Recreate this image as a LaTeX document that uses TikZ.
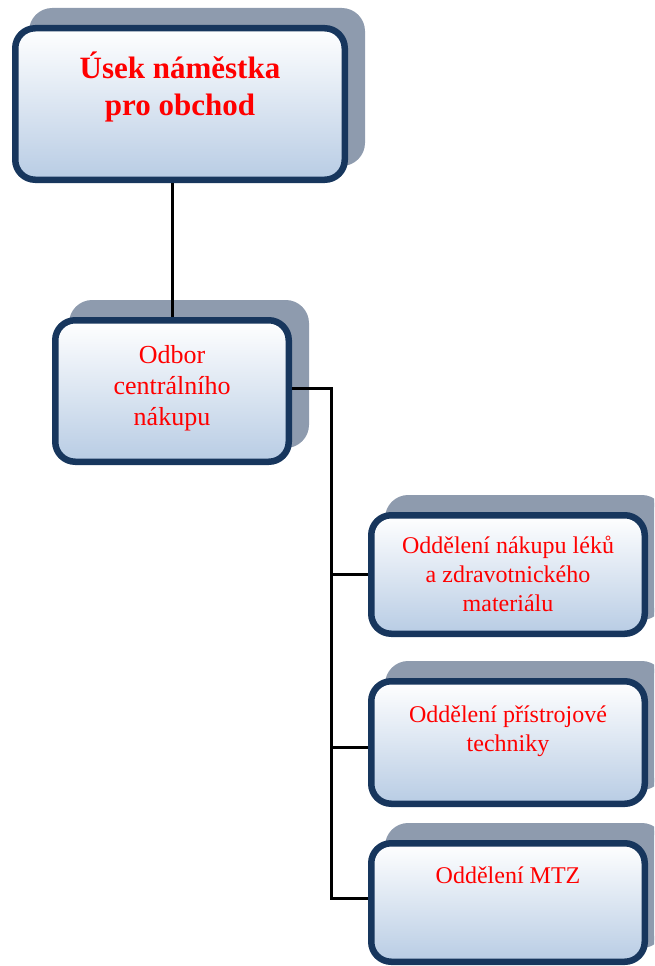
\documentclass[tikz,border=0pt]{standalone}
\usepackage{fontspec}
\setmainfont{Liberation Serif}
\usetikzlibrary{shadows}
\definecolor{boxborder}{RGB}{23,54,93}
\definecolor{boxtop}{RGB}{255,255,255}
\definecolor{boxbottom}{RGB}{184,204,228}
\definecolor{boxshadow}{RGB}{142,155,174}
\definecolor{txtred}{RGB}{255,0,0}
\begin{document}
\begin{tikzpicture}[x=1pt,y=-1pt,
  orgbox/.style={rectangle, rounded corners=20pt, draw=boxborder, line width=6.5pt,
    top color=boxtop, bottom color=boxbottom, inner sep=0pt,
    general shadow={fill=boxshadow, draw=boxshadow, line width=6.5pt,
      shadow xshift=17pt, shadow yshift=17pt}},
  boxtxt/.style={text=txtred, align=center, inner sep=0pt, anchor=base},
  conn/.style={draw=black, line width=3pt}]
\path[use as bounding box, clip] (0,0) rectangle (654,966);
% boxes
\node[orgbox, minimum width=329.5pt, minimum height=151.5pt] (b1) at (180,104) {};
\node[orgbox, minimum width=233.5pt, minimum height=141.5pt] (b2) at (172,391) {};
\node[orgbox, minimum width=273.5pt, minimum height=118.5pt] (b3) at (508,574.5) {};
\node[orgbox, minimum width=273.5pt, minimum height=122.5pt] (b4) at (508,742.5) {};
\node[orgbox, minimum width=273.5pt, minimum height=118.5pt] (b5) at (508,902.5) {};
% texts (anchor base = baseline of the last line)
\node[boxtxt, font=\fontsize{31}{37}\selectfont\bfseries] (t1) at (180,115.3) {Úsek náměstka\\pro obchod};
\node[boxtxt, font=\fontsize{26}{31}\selectfont] (t2) at (172,425) {Odbor\\centrálního\\nákupu};
\node[boxtxt, font=\fontsize{24}{29}\selectfont] (t3) at (508,611) {Oddělení nákupu léků\\a zdravotnického\\materiálu};
\node[boxtxt, font=\fontsize{24}{29}\selectfont] (t4) at (508,751) {Oddělení přístrojové\\techniky};
\node[boxtxt, font=\fontsize{24}{29}\selectfont] (t5) at (508,883) {Oddělení MTZ};
% connectors
\coordinate (tr) at (331,0);
\draw[conn] (b2.north |- b1.south) -- (b2.north);
\draw[conn] ([yshift=3pt]b2.east) -- ([yshift=3pt]b2.east -| tr) |- ([yshift=4.5pt]b5.west);
\draw[conn] (b3.west -| tr) -- (b3.west);
\draw[conn] ([yshift=-4.5pt]b4.west -| tr) -- ([yshift=-4.5pt]b4.west);
\end{tikzpicture}
\end{document}
